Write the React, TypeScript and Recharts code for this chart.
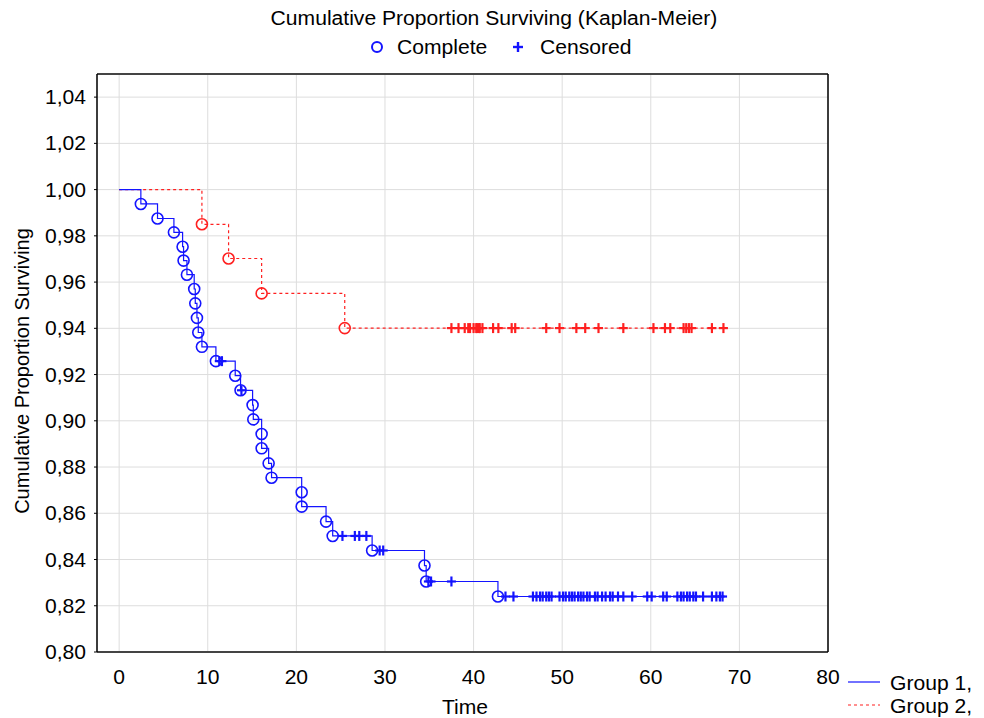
import { ComposedChart, Line, Scatter, XAxis, YAxis, CartesianGrid } from "recharts";

const FONT = '"Liberation Sans", Arial, sans-serif';
const BLUE = "#1414ff";
const RED = "#ff2020";
const FS = 20;
const SX = 1.055; // the reference lettering is slightly wide

const xTicks = [0, 10, 20, 30, 40, 50, 60, 70, 80];
const yTicks = [0.8, 0.82, 0.84, 0.86, 0.88, 0.9, 0.92, 0.94, 0.96, 0.98, 1.0, 1.02, 1.04];

// Group 1: event (complete) times and the survival after each event
const group1EventTimes = [
  2.45, 4.33, 6.18, 7.16, 7.27, 7.65, 8.47, 8.59, 8.78, 8.93, 9.34, 10.92, 13.1, 13.7, 15.06,
  15.14, 16.08, 16.08, 16.87, 17.2, 20.6, 20.6, 23.35, 24.1, 28.55, 34.46, 34.65, 42.75,
];
const group1Surv = [
  0.9938, 0.9875, 0.9815, 0.9753, 0.9693, 0.9632, 0.957, 0.9508, 0.9445, 0.9382, 0.932, 0.9258,
  0.9195, 0.9132, 0.9068, 0.9006, 0.8943, 0.8881, 0.8816, 0.8754, 0.8691, 0.8629, 0.8564,
  0.8502, 0.8439, 0.8374, 0.8305, 0.824,
];
const group1CensorTimes = [
  11.3, 11.6, 13.8, 25.2, 26.6, 27.1, 27.9, 29.4, 29.8, 34.9, 35.2, 37.5, 43.6, 44.5, 46.7,
  47.1, 47.5, 47.8, 48.2, 48.5, 48.8, 49.7, 50.1, 50.4, 50.8, 51.1, 51.4, 51.8, 52.1, 52.4,
  52.8, 53.1, 53.7, 54.0, 54.5, 54.9, 55.4, 55.7, 56.3, 56.9, 57.9, 59.6, 60.1, 61.4, 61.8,
  63.0, 63.4, 63.7, 64.1, 64.4, 64.8, 65.1, 65.9, 66.9, 67.4, 67.8, 68.1,
];

// Group 2
const group2EventTimes = [9.34, 12.35, 16.08, 25.46];
const group2Surv = [0.985, 0.9702, 0.9551, 0.9401];
const group2CensorTimes = [
  37.5, 38.3, 39.0, 39.4, 39.6, 40.0, 40.3, 40.4, 40.6, 40.7, 41.0, 42.2, 42.8, 44.3, 44.7,
  48.2, 49.7, 51.6, 52.6, 54.1, 56.9, 60.3, 61.6, 62.2, 63.7, 64.0, 64.3, 64.6, 66.9, 68.2,
];

type Pt = { t: number; s: number };

function steps(times: number[], surv: number[], censors: number[]): Pt[] {
  const pts: Pt[] = [{ t: 0, s: 1 }];
  times.forEach((t, i) => pts.push({ t, s: surv[i] }));
  const end = Math.max(times[times.length - 1], ...censors);
  pts.push({ t: end, s: surv[surv.length - 1] });
  return pts;
}

function levelAt(times: number[], surv: number[], t: number) {
  let s = 1;
  times.forEach((et, i) => {
    if (et <= t) s = surv[i];
  });
  return s;
}

const g1Line = steps(group1EventTimes, group1Surv, group1CensorTimes);
const g2Line = steps(group2EventTimes, group2Surv, group2CensorTimes);
const g1Events = group1EventTimes.map((t, i) => ({ t, s: group1Surv[i] }));
const g2Events = group2EventTimes.map((t, i) => ({ t, s: group2Surv[i] }));
const g1Cens = group1CensorTimes.map((t) => ({ t, s: levelAt(group1EventTimes, group1Surv, t) }));
const g2Cens = group2CensorTimes.map((t) => ({ t, s: levelAt(group2EventTimes, group2Surv, t) }));

const circleShape = (color: string) => (p: any) =>
  <circle cx={p.cx} cy={p.cy} r={5.5} fill="none" stroke={color} strokeWidth={1.6} />;

const plusShape = (color: string) => (p: any) => (
  <g stroke={color} strokeWidth={2.2}>
    <line x1={p.cx - 4.5} y1={p.cy} x2={p.cx + 4.5} y2={p.cy} />
    <line x1={p.cx} y1={p.cy - 5} x2={p.cx} y2={p.cy + 5} />
  </g>
);

const comma = (v: number) => v.toFixed(2).replace(".", ",");

const XTick = (p: any) => (
  <text transform={`translate(${p.x},${p.y + 25}) scale(${SX},1)`} textAnchor="middle" dy="0.355em"
    fontSize={FS} fontFamily={FONT} fill="#000">
    {p.payload.value}
  </text>
);

const YTick = (p: any) => (
  <text transform={`translate(${p.x},${p.y}) scale(${SX},1)`} textAnchor="end" dy="0.355em"
    fontSize={FS} fontFamily={FONT} fill="#000">
    {comma(p.payload.value)}
  </text>
);

const abs = (extra: any) => ({
  position: "absolute" as const,
  whiteSpace: "nowrap" as const,
  lineHeight: 1,
  ...extra,
});

export default function App() {
  return (
    <div style={{ position: "absolute", left: 0, top: 0, width: 984, height: 718, background: "#fff", fontFamily: FONT, fontSize: FS, color: "#000", overflow: "hidden" }}>
      <ComposedChart width={984} height={718} margin={{ top: 74, right: 156, bottom: 36, left: 0 }}>
        <CartesianGrid stroke="#dddddd" strokeWidth={1} />
        <XAxis
          dataKey="t"
          type="number"
          domain={[-2.5, 80]}
          ticks={xTicks}
          allowDataOverflow
          height={30}
          tick={<XTick />}
          tickLine={false}
          tickSize={0}
          tickMargin={0}
          axisLine={{ stroke: "#444", strokeWidth: 2 }}
        />
        <XAxis xAxisId="bm" type="number" domain={[-2.5, 80]} ticks={xTicks} orientation="bottom" mirror
          tickFormatter={() => ""} tickSize={4} axisLine={false} tickLine={{ stroke: "#000" }} />
        <XAxis xAxisId="top" type="number" domain={[-2.5, 80]} ticks={xTicks} orientation="top" mirror
          tickFormatter={() => ""} tickSize={4} axisLine={{ stroke: "#444", strokeWidth: 2 }} tickLine={{ stroke: "#000" }} />
        <YAxis
          dataKey="s"
          type="number"
          domain={[0.8, 1.05]}
          ticks={yTicks}
          allowDataOverflow
          width={97}
          tick={<YTick />}
          tickSize={3}
          tickMargin={8}
          tickLine={{ stroke: "#000" }}
          axisLine={{ stroke: "#000", strokeWidth: 1.5 }}
        />
        <YAxis yAxisId="r" type="number" domain={[0.8, 1.05]} ticks={yTicks} orientation="right" mirror
          tickFormatter={() => ""} tickSize={4} axisLine={{ stroke: "#000", strokeWidth: 1.5 }} tickLine={{ stroke: "#000" }} />

        <Line data={g2Line} dataKey="s" type="stepAfter" stroke={RED} strokeWidth={1.2} strokeDasharray="3 3"
          dot={false} activeDot={false} isAnimationActive={false} />
        <Line data={g1Line} dataKey="s" type="stepAfter" stroke={BLUE} strokeWidth={1.2}
          dot={false} activeDot={false} isAnimationActive={false} />
        <Scatter data={g2Cens} dataKey="s" shape={plusShape(RED)} isAnimationActive={false} />
        <Scatter data={g1Cens} dataKey="s" shape={plusShape(BLUE)} isAnimationActive={false} />
        <Scatter data={g2Events} dataKey="s" shape={circleShape(RED)} isAnimationActive={false} />
        <Scatter data={g1Events} dataKey="s" shape={circleShape(BLUE)} isAnimationActive={false} />
      </ComposedChart>

      <div style={abs({ left: 493.5, top: 18, transform: `translate(-50%, -50%) scaleX(${SX})` })}>
        Cumulative Proportion Surviving (Kaplan-Meier)
      </div>

      <svg style={{ position: "absolute", left: 0, top: 0, pointerEvents: "none" }} width={984} height={718}>
        <circle cx={377} cy={47} r={5} fill="none" stroke={BLUE} strokeWidth={2} />
        <g stroke={BLUE} strokeWidth={2.4}>
          <line x1={513} y1={47} x2={523} y2={47} />
          <line x1={518} y1={42} x2={518} y2={52} />
        </g>
        <line x1={848} y1={682} x2={880} y2={682} stroke={BLUE} strokeWidth={1.2} />
        <line x1={848} y1={705} x2={880} y2={705} stroke={RED} strokeWidth={1.2} strokeDasharray="3 3" />
      </svg>
      <div style={abs({ left: 397, top: 37, transform: `scaleX(${SX})`, transformOrigin: "left center" })}>Complete</div>
      <div style={abs({ left: 540, top: 37, transform: `scaleX(${SX})`, transformOrigin: "left center" })}>Censored</div>

      <div style={abs({ left: 22, top: 371, transform: "translate(-50%, -50%) rotate(-90deg)" })}>
        Cumulative Proportion Surviving
      </div>
      <div style={abs({ left: 465, top: 707, transform: `translate(-50%, -50%) scaleX(${SX})` })}>Time</div>

      <div style={abs({ left: 890, top: 673, transform: `scaleX(${SX})`, transformOrigin: "left center" })}>Group 1,</div>
      <div style={abs({ left: 890, top: 696, transform: `scaleX(${SX})`, transformOrigin: "left center" })}>Group 2,</div>
    </div>
  );
}
